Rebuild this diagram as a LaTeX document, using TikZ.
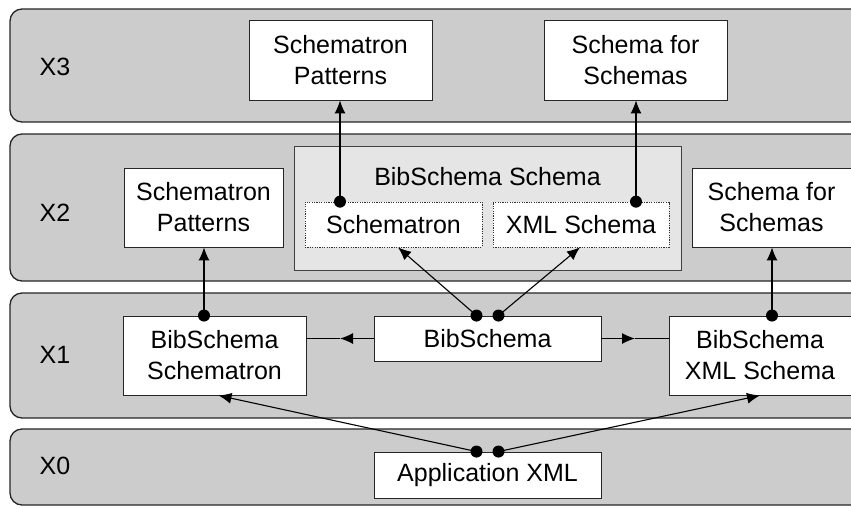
\documentclass[tikz,border=0pt]{standalone}
\usepackage{fontspec}
\setmainfont{Liberation Sans}
\usetikzlibrary{arrows.meta,calc}
\begin{document}
\begin{tikzpicture}[x=1pt,y=-1pt,
  layer/.style={draw=black!85,line width=1.3pt,fill=black!20,rounded corners=12pt},
  lbl/.style={font=\fontsize{25}{31}\selectfont},
  box/.style={draw=black!85,line width=0.9pt,fill=white,align=center,inner sep=0pt,
              font=\fontsize{25}{31}\selectfont},
  group/.style={draw=black!75,line width=0.9pt,fill=black!10,inner sep=0pt},
  part/.style={box,draw=black!80,line width=0.7pt,dash pattern=on 1.2pt off 1.2pt},
  link/.style={draw=black,line width=1.1pt,-{Latex[length=13pt,width=11pt]}},
  plain/.style={draw=black,line width=1.1pt},
  dotr/.style={fill=black}
]
\useasboundingbox (0,0) rectangle (851,507);
\clip (0,0) rectangle (851,507);
\fill[white] (0,0) rectangle (851,507);

% layers (running on past the right edge)
\draw[layer] (10,9) rectangle (880,122);
\draw[layer] (10,134) rectangle (880,281);
\draw[layer] (10,293) rectangle (880,418);
\draw[layer] (10,429) rectangle (880,505);

\node[lbl] (lx3) at (55,67) {X3};
\node[lbl] (lx2) at (55,213) {X2};
\node[lbl] (lx1) at (55,355) {X1};
\node[lbl] (lx0) at (55,466) {X0};

% X3
\node[box,minimum width=183pt,minimum height=80pt] (p3) at (340.5,60) {Schematron\\Patterns};
\node[box,minimum width=183pt,minimum height=80pt] (s3) at (635.5,60) {Schema for\\Schemas};

% X2
\node[box,minimum width=159pt,minimum height=79pt] (p2) at (203.5,207.5) {Schematron\\Patterns};
\node[group,minimum width=387pt,minimum height=124pt] (g) at (487.5,208) {};
\node[lbl] (gt) at (487.5,177) {BibSchema Schema};
\node[part,minimum width=177pt,minimum height=45pt] (sch) at (393.5,224.5) {Schematron};
\node[part,minimum width=176pt,minimum height=45pt] (xsd) at (581,224.5) {XML Schema};
\node[box,minimum width=159pt,minimum height=79pt] (s2) at (771.5,207.5) {Schema for\\Schemas};

% X1
\node[box,minimum width=183pt,minimum height=79pt] (bs) at (214.5,355.5) {BibSchema\\Schematron};
\node[box,minimum width=227pt,minimum height=45pt] (b) at (487.5,338.5) {BibSchema};
\node[box,minimum width=182pt,minimum height=79pt] (bx) at (760,355.5) {BibSchema\\XML Schema};

% X0
\node[box,minimum width=227pt,minimum height=46pt] (app) at (487.5,475) {Application XML};

% anchor points of the connectors
\coordinate (a1) at ([xshift=-53.5pt]sch.north);
\coordinate (a2) at ([xshift=55pt]xsd.north);
\coordinate (a3) at ([xshift=-10.5pt]bs.north);
\coordinate (a4) at ([xshift=12pt]bx.north);
\coordinate (a5) at ([xshift=-11pt]b.north);
\coordinate (a6) at ([xshift=11pt]b.north);
\coordinate (a7) at ([xshift=-11pt]app.north);
\coordinate (a8) at ([xshift=11pt]app.north);

% vertical links
\draw[link] (a1) -- (p3.south -| a1);
\draw[link] (a2) -- (s3.south -| a2);
\draw[link] (a3) -- (p2.south -| a3);
\draw[link] (a4) -- (s2.south -| a4);

% BibSchema to the schema parts
\draw[link] (a5) -- ([xshift=4.5pt]sch.south);
\draw[link] (a6) -- ([xshift=-1pt]xsd.south);

% Application XML to the layer X1 schemas
\draw[link] (a7) -- ([xshift=4pt]bs.south);
\draw[link] (a8) -- (bx.south);

% horizontal links with the arrow head half way
\coordinate (eL) at (b.west -| bs.east);
\coordinate (eR) at (b.east -| bx.west);
\coordinate (mL) at ($(b.west)!0.5!(eL)$);
\coordinate (mR) at ($(b.east)!0.5!(eR)$);
\draw[link] (b.west) -- (mL);
\draw[plain] (mL) -- (eL);
\draw[link] (b.east) -- (mR);
\draw[plain] (mR) -- (eR);

% dots at the link origins
\foreach \p in {a1,a2,a3,a4,a5,a6,a7,a8}
  \fill[dotr] (\p) circle (6pt);
\end{tikzpicture}
\end{document}
